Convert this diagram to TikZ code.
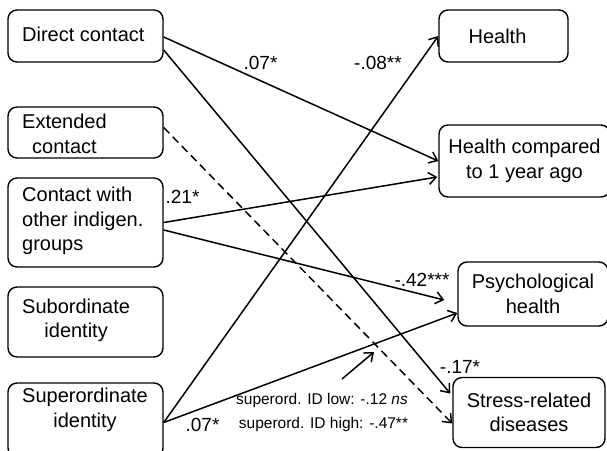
\documentclass[tikz,border=0pt]{standalone}
\usepackage{fontspec}
\setmainfont{Liberation Sans}
\usetikzlibrary{arrows.meta}

\begin{document}
\begin{tikzpicture}[x=1pt,y=-1pt,
  box/.style={draw, line width=1.4pt, rounded corners=9pt, inner sep=0pt},
  boxtext/.style={font=\fontsize{20}{24.5}\selectfont, inner sep=0pt},
  coef/.style={font=\fontsize{19}{22}\selectfont, inner sep=0pt},
  modtext/.style={font=\fontsize{15.5}{18}\selectfont, inner sep=0pt},
  path/.style={line width=1.5pt, -{Straight Barb[length=7.5pt,width=12pt,line width=1.5pt]}},
  dashpath/.style={path, dash pattern=on 8pt off 5pt}]

\useasboundingbox[fill=white] (0,0) rectangle (607,450);

% predictors (left column)
\node[box, minimum width=155pt, minimum height=52pt] (dc)  at (85.5,36)  {};
\node[box, minimum width=155pt, minimum height=51pt] (ec)  at (85.5,132.5) {};
\node[box, minimum width=155pt, minimum height=89pt] (co)  at (85.5,222.5) {};
\node[box, minimum width=155pt, minimum height=70pt] (sub) at (85.5,322) {};
\node[box, minimum width=155pt, minimum height=74pt] (sup) at (85.5,420) {};

\node[boxtext, anchor=west] (dct) at (22,34) {Direct contact};
\node[boxtext, anchor=west, align=center] (ect) at (22,134) {Extended\\contact};
\node[boxtext, anchor=west, align=left] (cot) at (22,221) {Contact with\\other indigen.\\groups};
\node[boxtext, anchor=west, align=center] (subt) at (22,320.5) {Subordinate\\identity};
\node[boxtext, anchor=west, align=center] (supt) at (22,410) {Superordinate\\identity};

% outcomes (right column)
\node[box, boxtext, minimum width=129pt, minimum height=52pt] (h)  at (503.5,36) {Health\hspace*{12pt}};
\node[box, boxtext, minimum width=171pt, minimum height=72pt, align=center] (hc) at (524.5,161) {Health compared\\to 1 year ago};
\node[box, boxtext, minimum width=150pt, minimum height=64pt, align=center] (ph) at (533,294) {Psychological\\health};
\node[box, boxtext, minimum width=152pt, minimum height=70pt, align=center] (sr) at (529,412.5) {Stress-related\\diseases};

% paths
\draw[path] ([yshift=-1pt]dc.east) -- (hc.west);
\draw[path] ([yshift=-14pt]dc.east) -- ([xshift=-2pt,yshift=19pt]sr.west);
\draw[dashpath] ([yshift=5pt]ec.east) -- ([yshift=-11pt]sr.west);
\draw[path] (co.east) -- ([xshift=-1pt,yshift=-16pt]hc.west);
\draw[path] ([yshift=-7.5pt]co.east) -- ([xshift=-13pt,yshift=-6pt]ph.west);
\draw[path] ([yshift=-2.5pt]sup.east) -- (h.west);
\draw[path] ([yshift=-2.5pt]sup.east) -- ([yshift=-19pt]ph.west);

% moderation of the superordinate path
\coordinate (modfrom) at (342,379);
\coordinate (modto) at (374,352);
\draw[path] (modfrom) -- (modto);

% coefficients
\node[coef] (c1) at (260.5,63) {.07*};
\node[coef] (c2) at (378,63) {-.08**};
\node[coef] (c3) at (182.5,197) {.21*};
\node[coef] (c4) at (422,280) {-.42***};
\node[coef] (c5) at (460,367) {-.17*};
\node[coef] (c6) at (202.5,425) {.07*};
\node[modtext] (m1) at (322,400) {superord. ID low: -.12 \textit{ns}};
\node[modtext] (m2) at (323.5,424) {superord. ID high: -.47**};
\end{tikzpicture}
\end{document}
